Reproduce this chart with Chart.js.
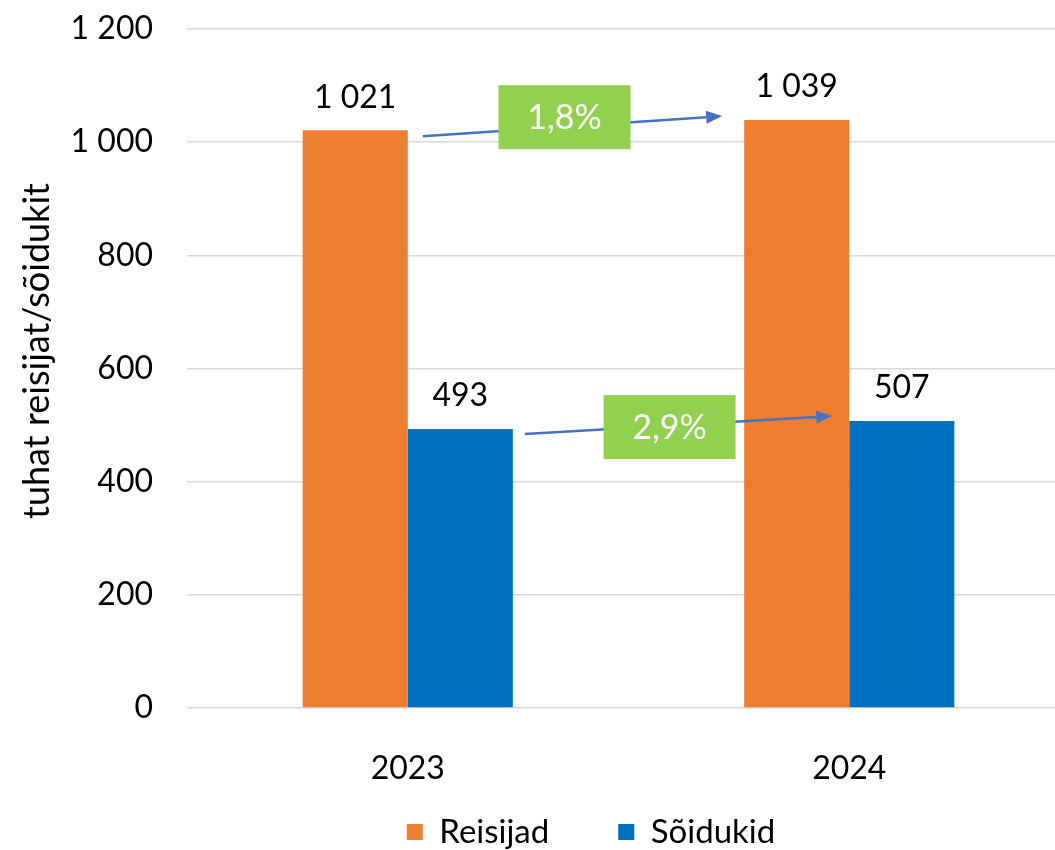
<!DOCTYPE html>
<html>
<head>
<meta charset="utf-8">
<script src="https://cdn.jsdelivr.net/npm/chart.js@4"></script>
<style>
html, body { margin: 0; padding: 0; overflow: hidden; background: #fff; }
#wrap { width: 1070px; height: 850px; position: relative; }
</style>
</head>
<body>
<div id="wrap"><canvas id="c"></canvas></div>
<script>
const categories = ['2023', '2024'];
const seriesNames = ['Reisijad', 'Sõidukid'];
const reisijad = [1021, 1039];
const soidukid = [493, 507];
const changeLabels = ['1,8%', '2,9%'];
const yTicks = [0, 200, 400, 600, 800, 1000, 1200];

const FONT = 'Lato, "Open Sans", sans-serif';
const fmt = v => String(v).replace(/\B(?=(\d{3})+(?!\d))/g, ' ');
const LEGEND_PAD = 69;

const labelsPlugin = {
  id: 'valueLabels',
  beforeLayout(chart) {
    const lg = chart.legend;
    if (lg && !lg._patched) {
      const orig = lg.fit;
      lg.fit = function () { orig.call(this); this.height = 52; };
      lg._patched = true;
    }
  },
  afterLayout(chart) {
    const lg = chart.legend;
    if (lg) {
      lg.top = 832 - LEGEND_PAD - 16.5; lg.bottom = chart.height;
      lg.left += 56; lg.right += 56;
    }
    const y = chart.scales.y;
    y.top -= 35;
  },
  afterDatasetsDraw(chart) {
    const ctx = chart.ctx;
    ctx.save();
    ctx.font = '32px ' + FONT;
    ctx.fillStyle = '#000';
    ctx.textAlign = 'center';
    ctx.textBaseline = 'middle';
    chart.data.datasets.forEach((ds, i) => {
      chart.getDatasetMeta(i).data.forEach((bar, j) => {
        ctx.fillText(fmt(ds.data[j]), bar.x, bar.y - 33);
      });
    });
    const specs = [
      {ds: 0, s: [15, 6], e: [-22, -4], o: [-8, -9]},
      {ds: 1, s: [12, 5], e: [-17, -5], o: [-9, 2]}
    ];
    specs.forEach((sp, k) => {
      const meta = chart.getDatasetMeta(sp.ds);
      const b1 = meta.data[0], b2 = meta.data[1];
      const x1 = b1.x + b1.width / 2 + sp.s[0], y1 = b1.y + sp.s[1];
      const x2 = b2.x - b2.width / 2 + sp.e[0], y2 = b2.y + sp.e[1];
      ctx.strokeStyle = '#4472C4';
      ctx.fillStyle = '#4472C4';
      ctx.lineWidth = 2.5;
      const ang = Math.atan2(y2 - y1, x2 - x1);
      const hl = 16, hw = 6.5;
      const bx = x2 - hl * Math.cos(ang), by = y2 - hl * Math.sin(ang);
      ctx.beginPath(); ctx.moveTo(x1, y1); ctx.lineTo(bx, by); ctx.stroke();
      ctx.beginPath();
      ctx.moveTo(x2, y2);
      ctx.lineTo(bx - hw * Math.sin(ang), by + hw * Math.cos(ang));
      ctx.lineTo(bx + hw * Math.sin(ang), by - hw * Math.cos(ang));
      ctx.closePath(); ctx.fill();
      const cx = (x1 + x2) / 2 + sp.o[0], cy = (y1 + y2) / 2 + sp.o[1];
      ctx.fillStyle = '#92D050';
      ctx.fillRect(cx - 66, cy - 32, 132, 64);
      ctx.fillStyle = '#fff';
      ctx.font = '34px ' + FONT;
      ctx.fillText(changeLabels[k], cx, cy + 1);
    });
    ctx.restore();
  }
};

new Chart(document.getElementById('c'), {
  type: 'bar',
  data: {
    labels: categories,
    datasets: [
      { label: seriesNames[0], data: reisijad, backgroundColor: '#ED7D31' },
      { label: seriesNames[1], data: soidukid, backgroundColor: '#0070C0' }
    ]
  },
  options: {
    responsive: true,
    maintainAspectRatio: false,
    animation: false,
    devicePixelRatio: 1,
    layout: { padding: { top: 29, left: 0, right: 0, bottom: 0 } },
    datasets: { bar: { categoryPercentage: 0.476, barPercentage: 1 } },
    plugins: {
      tooltip: { enabled: false },
      legend: {
        position: 'bottom',
        labels: { font: { family: FONT, size: 33 }, color: '#000', boxWidth: 16, boxHeight: 16, padding: LEGEND_PAD }
      }
    },
    scales: {
      x: {
        grid: { display: false },
        border: { display: false },
        ticks: { font: { family: FONT, size: 32 }, color: '#000', padding: 33 },
        afterFit: s => { s.height = 90; }
      },
      y: {
        min: 0, max: 1200,
        afterBuildTicks: s => { s.ticks = yTicks.map(v => ({ value: v })); },
        grid: { color: '#d9d9d9', lineWidth: 1.5, drawTicks: false },
        border: { display: false },
        ticks: { font: { family: FONT, size: 32 }, color: '#000', padding: 34, callback: v => fmt(v) },
        title: { display: true, text: 'tuhat reisijat/sõidukit', font: { family: FONT, size: 36 }, color: '#000', padding: { top: 16 } },
        afterFit: s => { s.width = 187; s.paddingTop = 0; s.paddingBottom = 0; }
      }
    }
  },
  plugins: [labelsPlugin]
});
</script>
</body>
</html>
